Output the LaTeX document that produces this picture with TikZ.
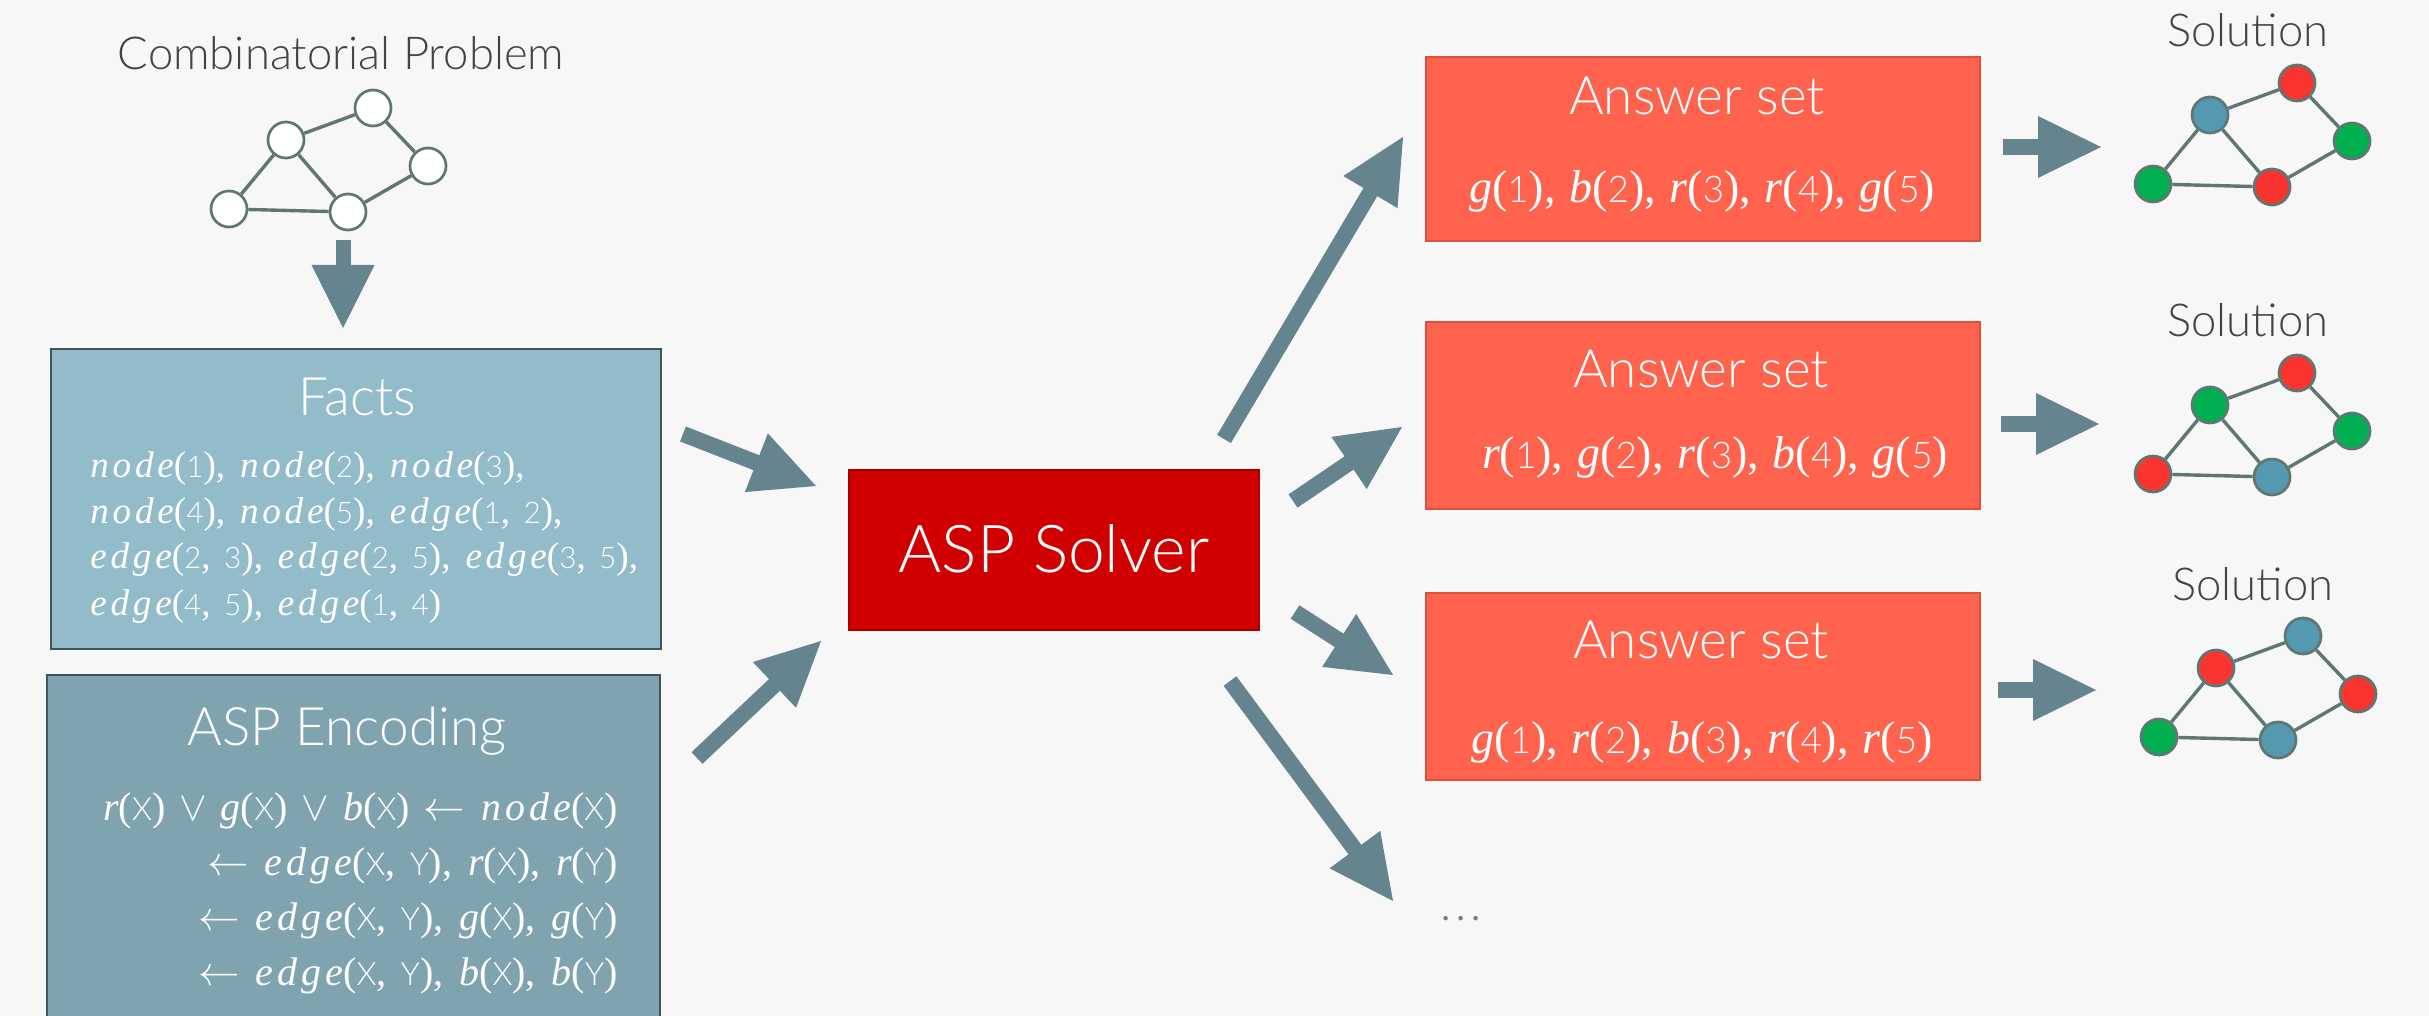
\documentclass[tikz,border=0pt]{standalone}
\usepackage{fontspec}
\usetikzlibrary{calc}

\newfontfamily\lightsans{Lato Light}
\newfontfamily\argsans{Lato Light}[Scale=0.8]
\newfontfamily\serif{Liberation Serif}

\definecolor{bg}{HTML}{F7F7F7}
\definecolor{factsfill}{HTML}{93BCCA}
\definecolor{encfill}{HTML}{7FA4AF}
\definecolor{boxline}{HTML}{3F545C}
\definecolor{solverfill}{HTML}{D00000}
\definecolor{solverline}{HTML}{A80000}
\definecolor{ansfill}{HTML}{FF634D}
\definecolor{ansline}{HTML}{D9513F}
\definecolor{arrowc}{HTML}{66848E}
\definecolor{graphline}{HTML}{5F7773}
\definecolor{nred}{HTML}{FA3530}
\definecolor{ngreen}{HTML}{00B050}
\definecolor{nblue}{HTML}{5499B0}
\definecolor{labelgray}{HTML}{444444}

% formula pieces: serif italic names, light sans arguments
\newcommand\fn[1]{{\serif\itshape\addfontfeature{LetterSpace=10}#1}}
\newcommand\ag[1]{{\argsans\addfontfeature{LetterSpace=10}#1}}
\newcommand\lp{{\serif(}}
\newcommand\rp{{\serif)}}
\newcommand\cm{{\serif,}}
\newcommand\sep{{\serif,}\hspace{0.4em}}
\newcommand\asep{{\serif,}\hspace{0.3em}}
\newcommand\ap[1]{\lp\ag{#1}\rp}
\newcommand\inner{{\serif,}\hspace{0.45em}}
\newcommand\nd[1]{\fn{node}\ap{#1}}
\newcommand\ed[2]{\fn{edge}\ap{#1\inner#2}}
\newcommand\orr{\hspace{0.35em}$\vee$\hspace{0.35em}}
\newcommand\ifr{$\leftarrow$\hspace{0.4em}}

% thick arrow: shaft plus triangular head
% #1 tail, #2 tip, #3 shaft width, #4 half head width, #5 head length
\newcommand\blockarrow[5]{%
  \coordinate (hb) at ($(#2)!#5!(#1)$);
  \draw[arrowc, line width=#3] (#1) -- ($(hb)!1pt!(#2)$);
  \fill[arrowc] (#2) -- ($(hb)!#4!90:(#2)$) -- ($(hb)!#4!-90:(#2)$) -- cycle;
}

% small five-node graph, shifted; #1 name prefix, #2 shift, #3..#7 fills
\newcommand\graphat[7]{%
  \begin{scope}[shift={#2}]
    \node[gnode, fill=#3] (#1-1) at (2153,184) {};
    \node[gnode, fill=#4] (#1-2) at (2210,115) {};
    \node[gnode, fill=#5] (#1-3) at (2297,83) {};
    \node[gnode, fill=#6] (#1-4) at (2352,141) {};
    \node[gnode, fill=#7] (#1-5) at (2272,187) {};
    \draw[gedge] (#1-1) -- (#1-2);
    \draw[gedge] (#1-2) -- (#1-3);
    \draw[gedge] (#1-3) -- (#1-4);
    \draw[gedge] (#1-4) -- (#1-5);
    \draw[gedge] (#1-5) -- (#1-1);
    \draw[gedge] (#1-2) -- (#1-5);
  \end{scope}
}

\begin{document}
\begin{tikzpicture}[x=0.5pt, y=-0.5pt,
  box/.style={rectangle, inner sep=0pt, line width=1.3pt},
  txt/.style={inner sep=0pt, anchor=base},
  title/.style={txt, text=white, font=\lightsans\fontsize{26.5pt}{30pt}\selectfont},
  label/.style={txt, text=labelgray, font=\lightsans\fontsize{22.7pt}{26pt}\selectfont},
  factline/.style={inner sep=0pt, anchor=base west, text=white, font=\serif\fontsize{18.6pt}{21pt}\selectfont},
  encline/.style={inner sep=0pt, anchor=base east, text=white, font=\serif\fontsize{20pt}{23pt}\selectfont},
  ansline/.style={txt, text=white, font=\serif\fontsize{23pt}{27pt}\selectfont},
  gnode/.style={circle, draw=graphline, line width=1.35pt, minimum size=18pt, inner sep=0pt},
  gedge/.style={draw=graphline, line width=1.7pt}
]
\useasboundingbox (0,0) rectangle (2429,1016);
\fill[bg] (0,0) rectangle (2429,1016);

% problem graph and its caption
\node[label] (problem) at (341,70) {Combinatorial Problem};
\graphat{p}{(-1924,25)}{white}{white}{white}{white}{white}

% facts box
\node[box, draw=boxline, fill=factsfill, minimum width=305pt, minimum height=150pt] (facts) at (356,499) {};
\node[title] (factstitle) at (357,415) {Facts};
\node[factline] (f1) at (90,477) {\nd{1}\sep\nd{2}\sep\nd{3}\cm};
\node[factline] (f2) at (90,523) {\nd{4}\sep\nd{5}\sep\ed{1}{2}\cm};
\node[factline] (f3) at (90,568) {\ed{2}{3}\sep\ed{2}{5}\sep\ed{3}{5}\cm};
\node[factline] (f4) at (90,615) {\ed{4}{5}\sep\ed{1}{4}};

% encoding box
\node[box, draw=boxline, fill=encfill, minimum width=306.5pt, minimum height=182.5pt] (enc) at (353.5,857.5) {};
\node[title] (enctitle) at (347,745) {ASP Encoding};
\node[encline] (e1) at (618,820) {\fn{r}\ap{X}\orr\fn{g}\ap{X}\orr\fn{b}\ap{X}\hspace{0.35em}\ifr\nd{X}};
\node[encline] (e2) at (618,875) {\ifr\fn{edge}\ap{X\inner Y}\sep\fn{r}\ap{X}\sep\fn{r}\ap{Y}};
\node[encline] (e3) at (618,930) {\ifr\fn{edge}\ap{X\inner Y}\sep\fn{g}\ap{X}\sep\fn{g}\ap{Y}};
\node[encline] (e4) at (618,985) {\ifr\fn{edge}\ap{X\inner Y}\sep\fn{b}\ap{X}\sep\fn{b}\ap{Y}};

% solver
\node[box, draw=solverline, line width=1pt, fill=solverfill, minimum width=205pt, minimum height=80pt] (solver) at (1054,550) {};
\node[txt, text=white, font=\lightsans\fontsize{33pt}{37pt}\selectfont] (solvertext) at (1054,572) {ASP Solver};

% answer sets
\node[box, draw=ansline, line width=1pt, fill=ansfill, minimum width=277pt, minimum height=92pt] (ans1) at (1703,149) {};
\node[title] (ans1title) at (1697,115) {Answer set};
\node[ansline] (ans1set) at (1702,203) {\fn{g}\ap{1}\asep\fn{b}\ap{2}\asep\fn{r}\ap{3}\asep\fn{r}\ap{4}\asep\fn{g}\ap{5}};

\node[box, draw=ansline, line width=1pt, fill=ansfill, minimum width=277pt, minimum height=93.5pt] (ans2) at (1703,415.5) {};
\node[title] (ans2title) at (1701,387) {Answer set};
\node[ansline] (ans2set) at (1715,468) {\fn{r}\ap{1}\asep\fn{g}\ap{2}\asep\fn{r}\ap{3}\asep\fn{b}\ap{4}\asep\fn{g}\ap{5}};

\node[box, draw=ansline, line width=1pt, fill=ansfill, minimum width=277pt, minimum height=93.5pt] (ans3) at (1703,686.5) {};
\node[title] (ans3title) at (1701,658) {Answer set};
\node[ansline] (ans3set) at (1702,753) {\fn{g}\ap{1}\asep\fn{r}\ap{2}\asep\fn{b}\ap{3}\asep\fn{r}\ap{4}\asep\fn{r}\ap{5}};

\node[txt, text=arrowc, font=\lightsans\fontsize{24pt}{28pt}\selectfont] (more) at (1461,920) {.\kern2pt.\kern2pt.};

% solutions
\node[label] (sol1) at (2248,47) {Solution};
\graphat{s}{(0,0)}{ngreen}{nblue}{nred}{ngreen}{nred}
\node[label] (sol2) at (2248,336) {Solution};
\graphat{t}{(0,290)}{nred}{ngreen}{nred}{ngreen}{nblue}
\node[label] (sol3) at (2253,600) {Solution};
\graphat{u}{(6,553)}{ngreen}{nred}{nblue}{nred}{nblue}

% arrow end points
\coordinate (downt) at (343,240);  \coordinate (downh) at (343,328);
\coordinate (a1t) at (683,434);    \coordinate (a1h) at (816,486);
\coordinate (a2t) at (697,758);    \coordinate (a2h) at (821,641);
\coordinate (a3t) at (1224,439);   \coordinate (a3h) at (1403,137);
\coordinate (a4t) at (1293,501);   \coordinate (a4h) at (1402,427);
\coordinate (a5t) at (1295,612);   \coordinate (a5h) at (1393,675);
\coordinate (a6t) at (1230,681);   \coordinate (a6h) at (1393,901);
\coordinate (r1t) at (2003,147);   \coordinate (r1h) at (2101,147);
\coordinate (r2t) at (2001,424);   \coordinate (r2h) at (2099,424);
\coordinate (r3t) at (1998,690);   \coordinate (r3h) at (2096,690);

\blockarrow{downt}{downh}{7.5pt}{15.75pt}{31.5pt}
\blockarrow{a1t}{a1h}{8pt}{15.75pt}{32pt}
\blockarrow{a2t}{a2h}{8pt}{15.75pt}{32pt}
\blockarrow{a3t}{a3h}{8pt}{15.75pt}{32pt}
\blockarrow{a4t}{a4h}{8pt}{15.75pt}{32pt}
\blockarrow{a5t}{a5h}{8pt}{15.75pt}{32pt}
\blockarrow{a6t}{a6h}{8pt}{15.75pt}{32pt}
\blockarrow{r1t}{r1h}{8pt}{15.5pt}{31.5pt}
\blockarrow{r2t}{r2h}{8pt}{15.5pt}{31.5pt}
\blockarrow{r3t}{r3h}{8pt}{15.5pt}{31.5pt}
\end{tikzpicture}
\end{document}
